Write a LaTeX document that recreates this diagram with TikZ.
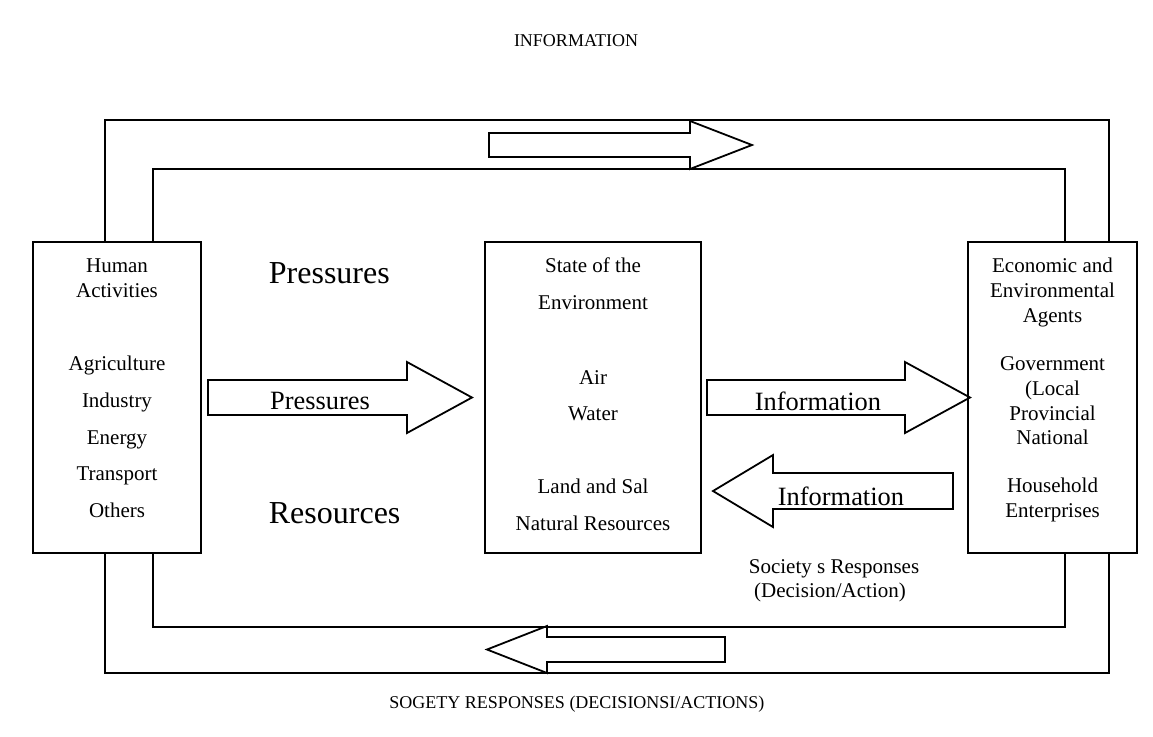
\documentclass[tikz,border=0pt]{standalone}
\usepackage{fontspec}
\setmainfont{Liberation Serif}
\begin{document}
\begin{tikzpicture}[x=0.5pt,y=-0.5pt,line width=0.9pt,
  box/.style={draw,inner sep=0pt,minimum height=155.5pt},
  txt/.style={font=\fontsize{10.5}{12}\selectfont,inner sep=0pt,anchor=base},
  big/.style={font=\fontsize{16}{18}\selectfont,inner sep=0pt,anchor=base west},
  arrlab/.style={font=\fontsize{13.2}{15}\selectfont,inner sep=0pt,anchor=base},
  captext/.style={font=\fontsize{9}{11}\selectfont,inner sep=0pt,anchor=base},
  blockarrow/.style={draw,line join=miter}]
\useasboundingbox (0,0) rectangle (1153,736);

% boxes
\node[box,minimum width=84pt] (hum) at (117,397.5) {};
\node[box,minimum width=108pt] (soe) at (593,397.5) {};
\node[box,minimum width=84.5pt] (econ) at (1052.5,397.5) {};

% left box text
\node[txt] (h1) at (117,272) {Human};
\node[txt] (h2) at (117,297) {Activities};
\node[txt] (h3) at (117,370) {Agriculture};
\node[txt] (h4) at (117,407) {Industry};
\node[txt] (h5) at (117,444) {Energy};
\node[txt] (h6) at (117,480) {Transport};
\node[txt] (h7) at (117,517) {Others};

% middle box text
\node[txt] (s1) at (593,272) {State of the};
\node[txt] (s2) at (593,309) {Environment};
\node[txt] (s3) at (593,384) {Air};
\node[txt] (s4) at (593,420) {Water};
\node[txt] (s5) at (593,493) {Land and Sal};
\node[txt] (s6) at (593,530) {Natural Resources};

% right box text
\node[txt] (e1) at (1052.5,272) {Economic and};
\node[txt] (e2) at (1052.5,297) {Environmental};
\node[txt] (e3) at (1052.5,322) {Agents};
\node[txt] (e4) at (1052.5,370) {Government};
\node[txt] (e5) at (1052.5,395) {(Local};
\node[txt] (e6) at (1052.5,420) {Provincial};
\node[txt] (e7) at (1052.5,444) {National};
\node[txt] (e8) at (1052.5,492) {Household};
\node[txt] (e9) at (1052.5,517) {Enterprises};

% big labels
\node[big] (pl) at (268,283) {Pressures};
\node[big] (rl) at (268,523) {Resources};

% block arrows
\draw[blockarrow] (208,380) -- (407,380) -- (407,362) -- (472,397.5) -- (407,433) -- (407,415) -- (208,415) -- cycle;
\node[arrlab] (pa) at (320,409) {Pressures};

\draw[blockarrow] (707,380) -- (905,380) -- (905,362) -- (970,397.5) -- (905,433) -- (905,415) -- (707,415) -- cycle;
\node[arrlab] (ia) at (818,410) {Information};

\draw[blockarrow] (953,473) -- (773,473) -- (773,455) -- (713,491) -- (773,527) -- (773,509) -- (953,509) -- cycle;
\node[arrlab] (ib) at (841,505) {Information};

\draw[blockarrow] (489,133) -- (690,133) -- (690,121) -- (752,145) -- (690,169) -- (690,157) -- (489,157) -- cycle;
\draw[blockarrow] (725,637) -- (547,637) -- (547,626) -- (487,649.5) -- (547,673) -- (547,662) -- (725,662) -- cycle;

% loops
\coordinate (otr) at (1109,120);
\coordinate (itr) at (1065,169);
\coordinate (obr) at (1109,673);
\coordinate (ibr) at (1065,627);
\coordinate (oxl) at (105,0);
\coordinate (ixl) at (153,0);
\draw (hum.north -| oxl) |- (otr) -- (econ.north -| otr);
\draw (hum.north -| ixl) |- (itr) -- (econ.north -| itr);
\draw (hum.south -| oxl) |- (obr) -- (econ.south -| obr);
\draw (hum.south -| ixl) |- (ibr) -- (econ.south -| ibr);

% captions
\node[txt] (sr1) at (834,573) {Society s Responses};
\node[txt] (sr2) at (830,597) {(Decision/Action)};
\node[captext] (top) at (576,46) {INFORMATION};
\node[captext] (bot) at (577,708) {SOGETY RESPONSES (DECISIONSI/ACTIONS)};
\end{tikzpicture}
\end{document}
